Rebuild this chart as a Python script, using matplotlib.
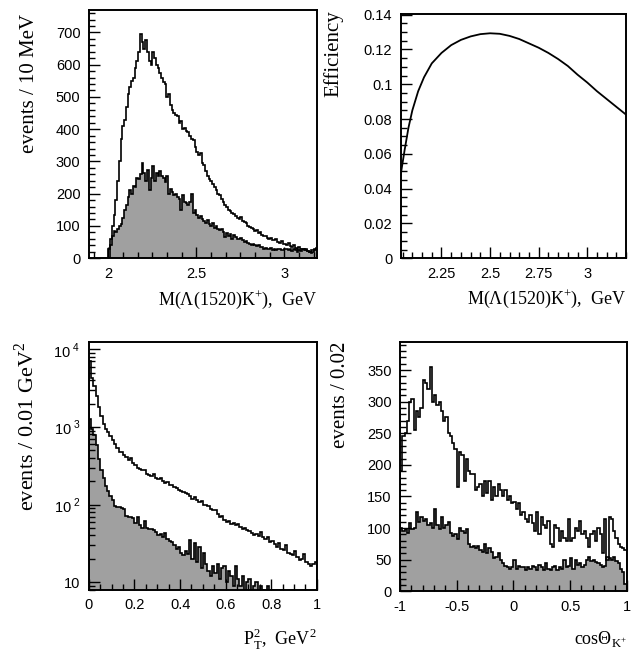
import numpy as np
import matplotlib
matplotlib.use("Agg")
import matplotlib.pyplot as plt
from matplotlib.ticker import MultipleLocator, FixedLocator, NullFormatter

# --------------------------
# data
# --------------------------
# M(Lambda(1520)K+) spectrum, 10 MeV bins starting at 2.00 GeV
mass_start = 2.00
mass_width = 0.01
mass_all = [
    30, 60, 100, 135, 180, 240, 300, 370, 410, 430,
    470, 510, 530, 550, 560, 590, 610, 640, 695, 670,
    650, 675, 640, 610, 600, 640, 620, 600, 590, 575,
    560, 545, 540, 500, 510, 475, 460, 450, 445, 440,
    420, 425, 400, 405, 395, 390, 380, 370, 365, 345,
    330, 320, 325, 295, 290, 270, 255, 245, 240, 230,
    220, 210, 200, 195, 185, 175, 165, 160, 150, 145,
    140, 138, 130, 125, 120, 128, 115, 112, 108, 100,
    98, 95, 90, 85, 88, 78, 80, 72, 70, 68,
    64, 60, 62, 56, 55, 58, 50, 48, 52, 45,
    44, 40, 46, 38, 36, 40, 33, 30, 35, 28,
    30, 25, 27, 22, 20, 24, 25, 30, 32,
]
mass_sel = [
    0, 40, 70, 85, 80, 90, 100, 105, 125, 150,
    165, 190, 210, 200, 225, 220, 250, 245, 260, 295,
    265, 240, 275, 210, 250, 285, 240, 265, 255, 270,
    255, 250, 235, 255, 200, 215, 205, 195, 200, 190,
    185, 150, 195, 175, 170, 165, 175, 200, 140, 150,
    135, 125, 130, 120, 115, 110, 118, 105, 100, 110,
    95, 100, 92, 88, 90, 80, 65, 78, 70, 75,
    60, 72, 65, 60, 58, 62, 55, 50, 52, 48,
    45, 42, 44, 40, 38, 42, 36, 34, 30, 33,
    30, 28, 32, 26, 28, 25, 30, 27, 24, 26,
    28, 30, 25, 27, 22, 30, 25, 20, 26, 23,
    28, 30, 25, 22, 18, 15, 20, 25, 28,
]

# efficiency curve
eff_mass = [2.04, 2.06, 2.08, 2.10, 2.13, 2.16, 2.20, 2.25, 2.30, 2.35,
            2.40, 2.45, 2.50, 2.55, 2.60, 2.65, 2.70, 2.75, 2.80, 2.85,
            2.90, 2.95, 3.00, 3.05, 3.10, 3.15, 3.20]
eff_val = [0.048, 0.062, 0.075, 0.085, 0.096, 0.104, 0.112, 0.118, 0.1225, 0.1255,
           0.1275, 0.1288, 0.1293, 0.129, 0.1278, 0.126, 0.1235, 0.121, 0.118, 0.1145,
           0.1105, 0.1055, 0.101, 0.096, 0.0915, 0.087, 0.0825]

# PT^2 spectrum, 0.01 GeV^2 bins from 0
pt_start = 0.0
pt_width = 0.01
pt_all = [
    7000, 4300, 3400, 2500, 1800, 1400, 1100, 950, 850, 760,
    680, 600, 540, 480, 470, 440, 410, 380, 400, 340,
    320, 300, 290, 275, 280, 250, 240, 235, 245, 220,
    215, 220, 200, 190, 195, 180, 178, 170, 165, 155,
    150, 145, 140, 135, 130, 118, 125, 115, 108, 112,
    100, 98, 96, 88, 84, 86, 76, 70, 72, 64,
    60, 62, 56, 58, 54, 56, 52, 48, 50, 47,
    45, 43, 40, 42, 39, 44, 38, 36, 38, 33,
    34, 31, 28, 32, 27, 26, 30, 24, 23, 22,
    25, 21, 19, 20, 23, 18, 17, 16, 17, 18,
]
pt_sel = [
    1250, 950, 780, 580, 390, 280, 220, 175, 150, 130,
    115, 95, 92, 94, 90, 88, 72, 68, 70, 66,
    58, 68, 54, 50, 62, 50, 48, 49, 47, 44,
    40, 42, 38, 43, 36, 34, 33, 30, 27, 28,
    24, 22, 25, 23, 35, 20, 32, 18, 28, 15,
    24, 17, 14, 12, 16, 13, 17, 11, 15, 16,
    10, 14, 12, 9, 16, 11, 9, 12, 8, 10,
    11, 8, 9, 10, 7, 9, 8, 7, 9, 6,
    8, 7, 8, 6, 8, 5, 5, 6, 4, 5,
    6, 4, 5, 4, 3, 5, 4, 3, 4, 3,
]

# cos(theta_K+) distribution, 0.02 bins from -1
cos_start = -1.0
cos_width = 0.02
cos_all = [
    190, 245, 250, 270, 300, 305, 255, 285, 275, 290,
    335, 330, 320, 355, 300, 310, 295, 300, 285, 270,
    275, 250, 245, 235, 225, 165, 220, 215, 175, 210,
    190, 185, 185, 160, 165, 170, 150, 175, 155, 175,
    145, 165, 150, 170, 160, 150, 160, 145, 150, 140,
    142, 130, 140, 120, 125, 115, 110, 120, 108, 95,
    125, 90, 118, 105, 100, 112, 75, 70, 105, 100,
    80, 95, 85, 80, 115, 80, 85, 100, 95, 112,
    90, 95, 85, 70, 90, 95, 80, 100, 90, 60,
    115, 50, 118, 115, 95, 85, 75, 70, 68, 65,
]
cos_sel = [
    100, 95, 98, 92, 108, 98, 100, 125, 110, 118,
    112, 115, 105, 108, 100, 130, 105, 98, 118, 100,
    105, 110, 92, 88, 90, 82, 100, 95, 92, 98,
    75, 70, 72, 68, 72, 65, 62, 75, 60, 68,
    62, 52, 55, 60, 50, 45, 40, 38, 35, 38,
    50, 36, 40, 38, 39, 34, 38, 36, 40, 38,
    34, 42, 38, 34, 45, 36, 34, 38, 40, 33,
    38, 35, 50, 38, 40, 52, 35, 50, 42, 45,
    38, 42, 50, 55, 48, 50, 46, 45, 42, 38,
    40, 55, 52, 50, 55, 48, 45, 35, 30, 12,
]

# --------------------------
# style
# --------------------------
GREY = "#a0a0a0"
SANS = "Liberation Sans"
SERIF = "Liberation Serif"
plt.rcParams["font.family"] = SANS
plt.rcParams["mathtext.fontset"] = "custom"
plt.rcParams["mathtext.rm"] = SERIF
plt.rcParams["axes.linewidth"] = 1.4


def edges_for(start, width, n):
    return start + width * np.arange(n + 1)


def style_axes(ax):
    ax.tick_params(which="both", direction="in", top=False, right=False,
                   labelsize=10.5, width=1.0, pad=6)
    ax.tick_params(which="major", length=8)
    ax.tick_params(which="minor", length=4)
    for lab in ax.get_xticklabels() + ax.get_yticklabels():
        lab.set_fontfamily(SANS)


def hist_pair(ax, edges, total, sel, baseline=0):
    ax.stairs(sel, edges, fill=True, color=GREY, baseline=baseline, lw=0)
    ax.stairs(sel, edges, color="k", lw=1.2, baseline=baseline)
    ax.stairs(total, edges, color="k", lw=1.2, baseline=baseline)


fig = plt.figure(figsize=(6.35, 6.57), dpi=100)
ax1 = fig.add_axes([0.140, 0.607, 0.359, 0.378])
ax2 = fig.add_axes([0.631, 0.607, 0.355, 0.372])
ax3 = fig.add_axes([0.140, 0.102, 0.359, 0.378])
ax4 = fig.add_axes([0.630, 0.100, 0.357, 0.380])

# --- top left: mass spectrum
e1 = edges_for(mass_start, mass_width, len(mass_all))
hist_pair(ax1, e1, mass_all, mass_sel)
ax1.set_xlim(1.89, 3.185)
ax1.set_ylim(0, 770)
ax1.xaxis.set_major_locator(FixedLocator([2, 2.5, 3]))
ax1.xaxis.set_minor_locator(MultipleLocator(0.5 / 6))
ax1.set_xticklabels(["2", "2.5", "3"])
ax1.yaxis.set_major_locator(MultipleLocator(100))
ax1.yaxis.set_minor_locator(MultipleLocator(20))
style_axes(ax1)

# --- top right: efficiency
ax2.plot(eff_mass, eff_val, color="k", lw=1.3)
ax2.set_xlim(2.04, 3.2)
ax2.set_ylim(0, 0.1405)
ax2.xaxis.set_major_locator(FixedLocator([2.25, 2.5, 2.75, 3]))
ax2.set_xticklabels(["2.25", "2.5", "2.75", "3"])
ax2.xaxis.set_minor_locator(MultipleLocator(0.05))
ax2.yaxis.set_major_locator(FixedLocator([0, 0.02, 0.04, 0.06, 0.08, 0.1, 0.12, 0.14]))
ax2.set_yticklabels(["0", "0.02", "0.04", "0.06", "0.08", "0.1", "0.12", "0.14"])
ax2.yaxis.set_minor_locator(MultipleLocator(0.005))
style_axes(ax2)

# --- bottom left: PT^2
e3 = edges_for(pt_start, pt_width, len(pt_all))
hist_pair(ax3, e3, pt_all, pt_sel, baseline=1)
ax3.set_yscale("log")
ax3.set_xlim(0, 1)
ax3.set_ylim(7.9, 12600)
ax3.xaxis.set_major_locator(FixedLocator([0, 0.2, 0.4, 0.6, 0.8, 1]))
ax3.set_xticklabels(["0", "0.2", "0.4", "0.6", "0.8", "1"])
ax3.xaxis.set_minor_locator(MultipleLocator(0.05))
ax3.yaxis.set_major_locator(FixedLocator([10, 100, 1000, 10000]))
ax3.set_yticklabels(["10", r"10$^{\mathregular{\ 2}}$", r"10$^{\mathregular{\ 3}}$",
                     r"10$^{\mathregular{\ 4}}$"])
ax3.yaxis.set_minor_locator(FixedLocator(
    [m * 10 ** d for d in range(0, 5) for m in range(2, 10)]))
ax3.yaxis.set_minor_formatter(NullFormatter())
style_axes(ax3)

# --- bottom right: cos theta
e4 = edges_for(cos_start, cos_width, len(cos_all))
hist_pair(ax4, e4, cos_all, cos_sel)
ax4.set_xlim(-1, 1)
ax4.set_ylim(0, 395)
ax4.xaxis.set_major_locator(FixedLocator([-1, -0.5, 0, 0.5, 1]))
ax4.set_xticklabels(["-1", "-0.5", "0", "0.5", "1"])
ax4.xaxis.set_minor_locator(MultipleLocator(0.1))
ax4.yaxis.set_major_locator(MultipleLocator(50))
ax4.yaxis.set_minor_locator(MultipleLocator(10))
style_axes(ax4)

# --------------------------
# axis titles (ROOT style, serif)
# --------------------------
lab_kw = dict(fontfamily=SERIF)
ax1.set_ylabel("events / 10 MeV", fontsize=15, loc="top", **lab_kw)
ax1.yaxis.set_label_coords(-0.22, 0.985)
ax2.set_ylabel("Efficiency", fontsize=15, loc="top", **lab_kw)
ax2.yaxis.set_label_coords(-0.255, 1.015)
ax3.set_ylabel(r"events / 0.01 GeV$^{\mathregular{2}}$", fontsize=16, loc="top", **lab_kw)
ax3.yaxis.set_label_coords(-0.22, 1.0)
ax4.set_ylabel("events / 0.02", fontsize=15, loc="top", **lab_kw)
ax4.yaxis.set_label_coords(-0.22, 1.0)

mlabel = r"M($\mathregular{\Lambda}$(1520)K$^{\mathregular{+}}$),  GeV"
ax1.set_xlabel(mlabel, fontsize=13, loc="right", **lab_kw)
ax1.xaxis.set_label_coords(1.0, -0.12)
ax2.set_xlabel(mlabel, fontsize=13, loc="right", **lab_kw)
ax2.xaxis.set_label_coords(1.0, -0.12)
ax3.set_xlabel(r"P$_{\mathregular{T}}^{\mathregular{2}}$,  GeV$^{\mathregular{2}}$",
               fontsize=13, loc="right", **lab_kw)
ax3.xaxis.set_label_coords(1.0, -0.15)
ax4.set_xlabel(r"cos$\mathregular{\Theta}_{\mathregular{K}^{\mathregular{+}}}$",
               fontsize=13, loc="right", **lab_kw)
ax4.xaxis.set_label_coords(1.0, -0.15)

fig.savefig("out.png", dpi=100)
